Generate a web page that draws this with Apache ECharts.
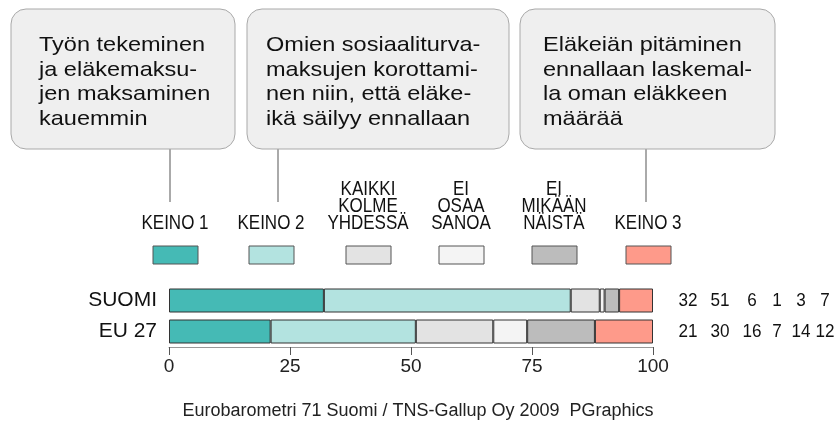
<!DOCTYPE html>
<html>
<head>
<meta charset="utf-8">
<script src="https://cdn.jsdelivr.net/npm/echarts@6/dist/echarts.min.js"></script>
<style>
  html, body { margin: 0; padding: 0; background: #fff; }
  #chart { width: 837px; height: 428px; }
</style>
</head>
<body>
<div id="chart"></div>
<script>
// data
const countries = ['SUOMI', 'EU 27'];
const seriesNames = ['KEINO 1', 'KEINO 2', 'KAIKKI\nKOLME\nYHDESSÄ', 'EI\nOSAA\nSANOA', 'EI\nMIKÄÄN\nNÄISTÄ', 'KEINO 3'];
const suomiValues = [32, 51, 6, 1, 3, 7];
const euValues = [21, 30, 16, 7, 14, 12];
const xTicks = [0, 25, 50, 75, 100];
const colors = ['#45bab5', '#b3e3e0', '#e3e3e3', '#f4f4f4', '#bcbcbc', '#fe9a8a'];
const calloutTexts = [
  'Työn tekeminen\nja eläkemaksu-\njen maksaminen\nkauemmin',
  'Omien sosiaaliturva-\nmaksujen korottami-\nnen niin, että eläke-\nikä säilyy ennallaan',
  'Eläkeiän pitäminen\nennallaan laskemal-\nla oman eläkkeen\nmäärää'
];
const footer = 'Eurobarometri 71 Suomi / TNS-Gallup Oy 2009  PGraphics';

const sans = '"Liberation Sans", Arial, sans-serif';

const chart = echarts.init(document.getElementById('chart'));

// callout boxes + connector lines
const boxes = [
  {x: 11, w: 224, tx: 39, lineX: 170},
  {x: 247, w: 262, tx: 266, lineX: 278},
  {x: 520, w: 255, tx: 543, lineX: 646}
];
// legend centres, value columns
const legendX = [175, 271, 368, 461, 554, 648];
const valueX = [688, 720, 752, 777, 801, 825];

function buildGraphics(valueLabels) {
  const g = [];
  boxes.forEach((b, i) => {
    g.push({
      type: 'rect', shape: {x: b.x, y: 9, width: b.w, height: 140, r: 15},
      style: {fill: '#efefef', stroke: '#a9a9a9', lineWidth: 1}
    });
    g.push({
      type: 'text', x: b.tx, y: 33, scaleX: 1.12,
      style: {text: calloutTexts[i], font: '21px ' + sans, fill: '#111', lineHeight: 24.5, verticalAlign: 'top'}
    });
    g.push({
      type: 'line', shape: {x1: b.lineX, y1: 149, x2: b.lineX, y2: 202},
      style: {stroke: '#aaa', lineWidth: 2}
    });
  });
  seriesNames.forEach((n, i) => {
    g.push({
      type: 'text', x: legendX[i], y: 232, scaleX: 0.85,
      style: {text: n, font: '20px ' + sans, fill: '#111', align: 'center', verticalAlign: 'bottom', lineHeight: 17}
    });
    g.push({
      type: 'rect', shape: {x: legendX[i] - 22, y: 246, width: 45, height: 18},
      style: {fill: colors[i], stroke: '#555', lineWidth: 1}
    });
  });
  g.push({
    type: 'text', x: 418, y: 411,
    style: {text: footer, font: '18px ' + sans, fill: '#222', align: 'center', verticalAlign: 'middle'}
  });
  return g.concat(valueLabels || []);
}

const option = {
  animation: false,
  backgroundColor: '#fff',
  grid: {left: 169, right: 184, top: 285, height: 62},
  xAxis: {
    type: 'value', min: 0, max: 100, interval: 25,
    axisLine: {show: true, lineStyle: {color: '#999', width: 1}},
    axisTick: {show: true, length: 8, lineStyle: {color: '#555'}},
    splitLine: {show: false},
    axisLabel: {fontSize: 19, color: '#222', margin: 10, fontFamily: sans, customValues: xTicks}
  },
  yAxis: {
    type: 'category', data: countries, inverse: true,
    axisLine: {show: false}, axisTick: {show: false},
    axisLabel: {fontSize: 21, color: '#111', margin: 12, fontFamily: sans}
  },
  series: seriesNames.map((n, i) => ({
    name: n, type: 'bar', stack: 'all', barWidth: 24,
    data: [suomiValues[i], euValues[i]],
    itemStyle: {color: colors[i], borderColor: '#333', borderWidth: 1}
  })),
  graphic: buildGraphics()
};
chart.setOption(option);

// value columns to the right of bars
const rows = [suomiValues, euValues];
const labels = [];
rows.forEach((vals, r) => {
  const y = chart.convertToPixel({yAxisIndex: 0}, countries[r]);
  vals.forEach((v, i) => {
    labels.push({
      type: 'text', x: valueX[i], y: y, scaleX: 0.9,
      style: {text: String(v), font: '19px ' + sans, fill: '#111', align: 'center', verticalAlign: 'middle'}
    });
  });
});
chart.setOption({graphic: buildGraphics(labels)}, {replaceMerge: ['graphic']});
</script>
</body>
</html>
